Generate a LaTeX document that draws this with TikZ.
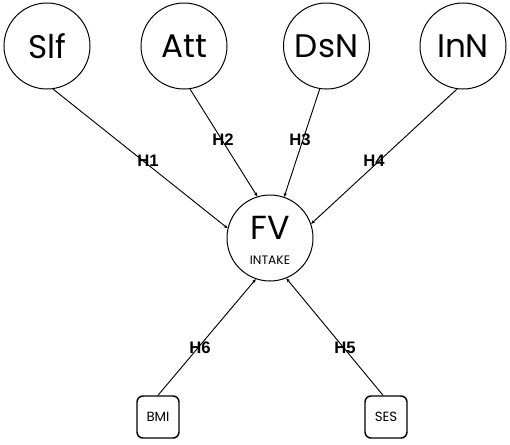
\documentclass[tikz,border=0pt]{standalone}
\usepackage{fontspec}
\setmainfont{Poppins}
\newfontfamily\lblfont{Liberation Sans}
\usetikzlibrary{arrows.meta}
\tikzset{
  bigc/.style={circle,draw,line width=0.75pt,minimum size=64.5pt,inner sep=0pt,font=\fontsize{24.5}{24.5}\selectfont},
  sbox/.style={rounded corners=4.5pt,draw,line width=1.1pt,minimum size=31.5pt,inner sep=0pt,font=\fontsize{10}{10}\selectfont},
  arr/.style={line width=0.7pt,-{Stealth[length=3pt,width=2.5pt]}},
  hl/.style={font=\lblfont\bfseries\fontsize{12.5}{12.5}\selectfont,inner sep=0pt}
}
\begin{document}
\begin{tikzpicture}[x=0.75pt,y=-0.75pt]
\useasboundingbox (0,0) rectangle (510,444);
\node[bigc] (slf) at (47,46) {Slf};
\node[bigc] (att) at (184,46) {Att};
\node[bigc] (dsn) at (326.5,46) {DsN};
\node[bigc] (inn) at (463,46) {InN};
\node[bigc] (fv) at (270,238) {};
\node[font=\fontsize{25}{25}\selectfont,inner sep=0pt] (fvt) at (270,228) {FV};
\node[font=\fontsize{9.2}{9.2}\selectfont,inner sep=0pt] (fvi) at (270,260) {INTAKE};
\node[sbox] (bmi) at (158,417) {BMI};
\node[sbox] (ses) at (386,417) {SES};
\draw[arr] (slf.-82) -- (fv.167);
\draw[arr] (att.-82) -- (fv.107.5);
\draw[arr] (dsn.-99) -- (fv.71);
\draw[arr] (inn.-98) -- (fv.19);
\draw[arr] (bmi.north) -- (fv.-109);
\draw[arr] ([xshift=-2.25pt]ses.north) -- (fv.-68);
\node[hl] (h1) at (148,160.5) {H1};
\node[hl] (h2) at (223,139.5) {H2};
\node[hl] (h3) at (300,140) {H3};
\node[hl] (h4) at (374,160.5) {H4};
\node[hl] (h6) at (200,348) {H6};
\node[hl] (h5) at (345,348) {H5};
\end{tikzpicture}
\end{document}
